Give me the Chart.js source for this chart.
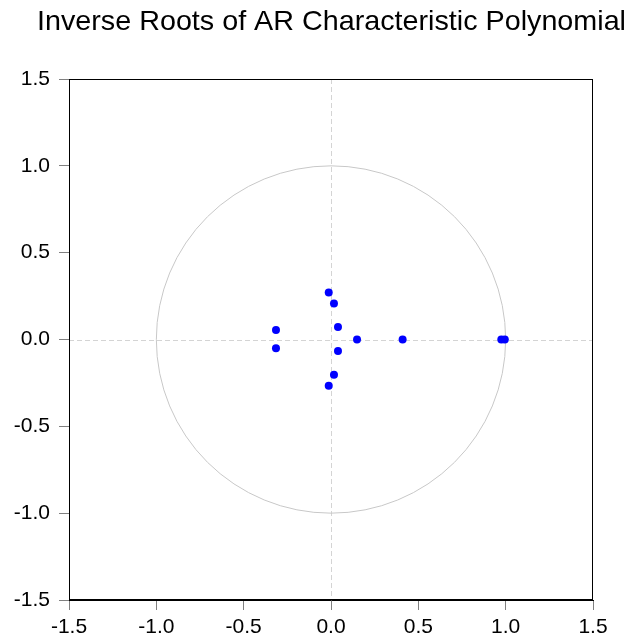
<!DOCTYPE html>
<html>
<head>
<meta charset="utf-8">
<script src="https://cdn.jsdelivr.net/npm/chart.js@4"></script>
<style>
  html, body { margin: 0; padding: 0; background: #fff; }
  #wrap { width: 631px; height: 644px; position: relative; }
</style>
</head>
<body>
<div id="wrap"><canvas id="roots-chart"></canvas></div>
<script>
const titleText = "Inverse Roots of AR Characteristic Polynomial";
// real and imaginary parts of the inverse roots
const rootsRe = [-0.315, -0.315, -0.013, 0.017, 0.04, 0.04, 0.149, 0.41, 0.017, -0.013, 0.975, 0.995];
const rootsIm = [0.055, -0.05, 0.27, 0.208, 0.072, -0.066, 0, 0, -0.203, -0.266, 0, 0];
const axisMin = -1.5;
const axisMax = 1.5;
const tickStep = 0.5;

const points = rootsRe.map((re, i) => ({ x: re, y: rootsIm[i] }));

// unit circle, zero lines, box and title
const framePlugin = {
  id: "frame",
  beforeDatasetsDraw(chart) {
    const { ctx, chartArea, scales } = chart;
    const x0 = scales.x.getPixelForValue(0);
    const y0 = scales.y.getPixelForValue(0);
    const rx = scales.x.getPixelForValue(1) - x0;
    const ry = y0 - scales.y.getPixelForValue(1);
    ctx.save();
    ctx.strokeStyle = "#d4d4d4";
    ctx.lineWidth = 1;
    ctx.setLineDash([5, 3]);
    ctx.beginPath();
    ctx.moveTo(chartArea.left, Math.round(y0) + 0.5);
    ctx.lineTo(chartArea.right, Math.round(y0) + 0.5);
    ctx.moveTo(Math.round(x0) + 0.5, chartArea.top);
    ctx.lineTo(Math.round(x0) + 0.5, chartArea.bottom);
    ctx.stroke();
    ctx.setLineDash([]);
    ctx.strokeStyle = "#c8c8c8";
    ctx.beginPath();
    ctx.ellipse(x0, y0, rx, ry, 0, 0, Math.PI * 2);
    ctx.stroke();
    ctx.restore();
  },
  afterDraw(chart) {
    const { ctx, chartArea } = chart;
    ctx.save();
    ctx.strokeStyle = "#000";
    ctx.lineWidth = 1;
    ctx.strokeRect(Math.round(chartArea.left) + 0.5, Math.round(chartArea.top) + 0.5,
      Math.round(chartArea.right - chartArea.left) - 1, Math.round(chartArea.bottom - chartArea.top) - 1);
    // title is a touch wider than the font gives, stretch it to fit
    ctx.fillStyle = "#000";
    ctx.font = "28px 'Liberation Sans', Arial, sans-serif";
    ctx.textBaseline = "alphabetic";
    const w = ctx.measureText(titleText).width;
    ctx.translate(37, 30);
    ctx.scale(589 / w, 1);
    ctx.fillText(titleText, 0, 0);
    ctx.restore();
  }
};

const tickFont = { family: "'Liberation Sans', Arial, sans-serif", size: 21 };

new Chart(document.getElementById("roots-chart"), {
  type: "scatter",
  data: {
    datasets: [{
      label: "Inverse roots",
      data: points,
      backgroundColor: "#0000ff",
      borderColor: "#0000ff",
      borderWidth: 0,
      pointRadius: 4,
      pointHoverRadius: 4
    }]
  },
  options: {
    responsive: true,
    maintainAspectRatio: false,
    animation: false,
    layout: { padding: { top: 79, right: 38, left: 0, bottom: 0 } },
    plugins: {
      legend: { display: false },
      tooltip: { enabled: false },
      title: { display: false }
    },
    scales: {
      x: {
        type: "linear",
        min: axisMin,
        max: axisMax,
        afterFit: (scale) => { scale.height = 44; },
        ticks: {
          stepSize: tickStep,
          color: "#000",
          font: tickFont,
          padding: 5,
          maxRotation: 0,
          callback: (v) => v.toFixed(1)
        },
        grid: { drawOnChartArea: false, drawTicks: true, tickLength: 10, tickColor: "#808080", color: "#808080" },
        border: { display: true, color: "#000", width: 1 }
      },
      y: {
        type: "linear",
        min: axisMin,
        max: axisMax,
        afterFit: (scale) => { scale.width = 69; },
        ticks: {
          stepSize: tickStep,
          color: "#000",
          font: tickFont,
          padding: 9,
          callback: (v) => v.toFixed(1)
        },
        grid: { drawOnChartArea: false, drawTicks: true, tickLength: 10, tickColor: "#808080", color: "#808080" },
        border: { display: true, color: "#000", width: 1 }
      }
    }
  },
  plugins: [framePlugin]
});
</script>
</body>
</html>
